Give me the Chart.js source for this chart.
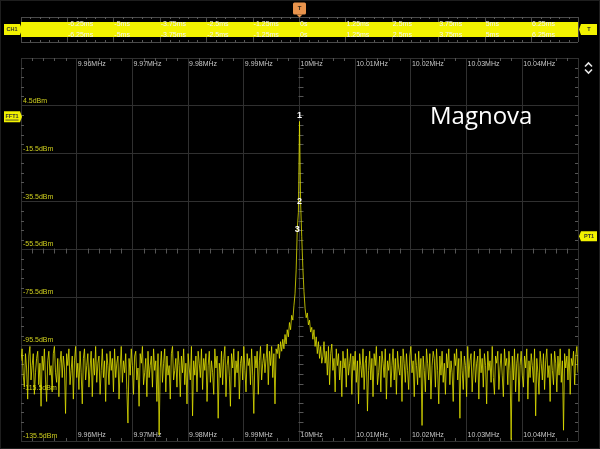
<!DOCTYPE html>
<html><head><meta charset="utf-8">
<script src="https://cdn.jsdelivr.net/npm/chart.js@4/dist/chart.umd.min.js"></script>
<style>
html,body{margin:0;padding:0;background:#000;overflow:hidden;}
#wrap{position:relative;width:600px;height:449px;background:#000;}
canvas{position:absolute;left:0;top:0;}
</style></head><body>
<div id="wrap">
<canvas id="main" width="600" height="449"></canvas>
<canvas id="strip" width="600" height="50"></canvas>
</div>
<script>
// ---------- data ----------
const freqTicksMHz = [9.95, 9.96, 9.97, 9.98, 9.99, 10.00, 10.01, 10.02, 10.03, 10.04, 10.05];
const freqTickLabels = ['', '9.96MHz', '9.97MHz', '9.98MHz', '9.99MHz', '10MHz', '10.01MHz', '10.02MHz', '10.03MHz', '10.04MHz', ''];
const levelTicksDbm = [24.5, 4.5, -15.5, -35.5, -55.5, -75.5, -95.5, -115.5, -135.5];
const levelTickLabels = ['', '4.5dBm', '-15.5dBm', '-35.5dBm', '-55.5dBm', '-75.5dBm', '-95.5dBm', '-115.5dBm', '-135.5dBm'];
const binStepMHz = 0.0002;
const carrierMHz = 10.0;
// bins below the carrier skirt (9.95 MHz upward)
const noiseLowDbm = [
 -102,-97,-108,-113,-99,-105,-118,-100,-96,-110,-104,-99,-116,-107,-101,-98,-112,-103,-121,-100,
 -106,-97,-110,-119,-102,-98,-108,-104,-115,-99,-96,-107,-111,-101,-117,-103,-98,-109,-100,-105,
 -124,-99,-104,-97,-112,-106,-100,-118,-102,-96,-109,-103,-114,-98,-107,-120,-101,-97,-110,-104,
 -99,-113,-105,-98,-117,-101,-108,-96,-111,-103,-100,-116,-106,-97,-109,-102,-119,-99,-104,-112,
 -98,-106,-101,-115,-97,-109,-103,-100,-118,-105,-96,-111,-102,-107,-99,-114,-128,-101,-108,-97,
 -104,-116,-100,-98,-110,-105,-121,-99,-103,-96,-112,-107,-101,-117,-98,-109,-104,-100,-113,-97,
 -106,-102,-119,-99,-133,-105,-98,-111,-103,-97,-115,-100,-108,-104,-118,-99,-96,-110,-106,-101,
 -113,-98,-104,-117,-100,-107,-97,-112,-103,-120,-99,-105,-110,-96,-125,-102,-108,-100,-115,-98,
 -103,-109,-97,-114,-101,-106,-99,-119,-104,-98,-111,-102,-107,-116,-97,-105,-100,-126,-103,-109,
 -98,-112,-101,-96,-117,-104,-100,-108,-121,-99,-105,-97,-113,-102,-107,-98,-118,-103,-100,-110,
 -96,-106,-115,-99,-104,-101,-112,-97,-108,-124,-100,-105,-98,-116,-102,-96,-110,-103,-99,-107,
 -101,-95,-112,-98,-104,-96,-109,-99,-120,-97
];
// carrier and skirt, 20 bins either side of 10 MHz
const carrierDbm = [
 -99,-95,-101,-94,-98,-93,-97,-91,-95,-89,-92,-86,-89,-83,-85,-79,-74,-64,-47,-40,
 -2,
 -36,-50,-63,-73,-80,-84,-82,-87,-85,-90,-88,-93,-89,-96,-92,-99,-94,-101,-96,-103
];
// bins above the carrier skirt (up to 10.05 MHz)
const noiseHighDbm = [
 -100,-94,-103,-98,-108,-96,-112,-99,-95,-106,-101,-115,-97,-104,-99,-110,-102,-117,-98,-105,
 -101,-113,-97,-108,-103,-99,-116,-100,-106,-98,-111,-102,-120,-99,-104,-109,-97,-114,-103,-100,
 -123,-106,-98,-110,-101,-117,-99,-104,-96,-112,-107,-100,-115,-98,-103,-109,-97,-118,-102,-106,
 -99,-113,-104,-97,-110,-101,-116,-98,-105,-108,-100,-119,-97,-103,-111,-99,-106,-114,-100,-96,
 -107,-102,-117,-99,-104,-112,-98,-109,-101,-129,-100,-106,-115,-97,-103,-110,-99,-118,-104,-98,
 -101,-113,-97,-106,-120,-100,-108,-98,-111,-103,-116,-99,-105,-97,-112,-102,-107,-119,-99,-104,
 -97,-110,-101,-126,-98,-106,-114,-100,-104,-117,-96,-109,-102,-99,-115,-105,-98,-111,-103,-100,
 -118,-97,-107,-101,-113,-99,-104,-120,-98,-106,-102,-111,-96,-109,-116,-100,-103,-98,-114,-105,
 -99,-108,-117,-97,-104,-101,-112,-98,-106,-135,-100,-110,-97,-115,-103,-99,-119,-104,-98,-108,
 -113,-100,-105,-97,-118,-102,-109,-99,-104,-111,-97,-125,-101,-107,-116,-98,-103,-110,-99,-114,
 -102,-97,-109,-104,-119,-99,-106,-112,-98,-103,-115,-100,-108,-97,-111,-102,-131,-99,-105,-100,
 -110,-97,-116,-101,-104,-98,-112,-100,-96,-107
];
const markerLabels = ['1', '2', '3'];
const markerFreqMHz = [10.0, 10.0, 9.9996];
const markerDbm = [-2, -35.5, -47];
const fftRefDbm = 0;       // FFT1 badge level
const pt1LevelDbm = -50;   // PT1 badge level
const timeTicksMs = [-7.5, -6.25, -5, -3.75, -2.5, -1.25, 0, 1.25, 2.5, 3.75, 5, 6.25, 7.5];
const timeTickLabels = ['', '-6.25ms', '-5ms', '-3.75ms', '-2.5ms', '-1.25ms', '0s', '1.25ms', '2.5ms', '3.75ms', '5ms', '6.25ms', ''];
const ch1BandLevels = [3, -3];
const triggerTimeMs = 0;

// ---------- build spectrum points (frequency of each bin) ----------
const half = (carrierDbm.length - 1) / 2;
const spectrumPoints = [];
noiseLowDbm.forEach((v, i) => spectrumPoints.push({ x: carrierMHz - (half + noiseLowDbm.length - i) * binStepMHz, y: v }));
carrierDbm.forEach((v, i) => spectrumPoints.push({ x: carrierMHz + (i - half) * binStepMHz, y: v }));
noiseHighDbm.forEach((v, i) => spectrumPoints.push({ x: carrierMHz + (half + 1 + i) * binStepMHz, y: v }));

// ---------- helpers ----------
const FONT = '"Liberation Sans", Arial, sans-serif';
function badge(ctx, x1, y1, x2, y2, pointDir, fill, text, tcol, fsize, underline) {
  ctx.save();
  ctx.fillStyle = fill;
  ctx.beginPath();
  const ym = (y1 + y2) / 2;
  if (pointDir === 'right') {
    ctx.moveTo(x1, y1); ctx.lineTo(x2, y1); ctx.lineTo(x2 + 2, ym); ctx.lineTo(x2, y2); ctx.lineTo(x1, y2);
  } else if (pointDir === 'left') {
    ctx.moveTo(x1, y1); ctx.lineTo(x2, y1); ctx.lineTo(x2, y2); ctx.lineTo(x1, y2); ctx.lineTo(x1 - 2, ym);
  } else {
    ctx.rect(x1, y1, x2 - x1, y2 - y1);
  }
  ctx.closePath(); ctx.fill();
  ctx.fillStyle = tcol;
  ctx.font = 'bold ' + fsize + 'px ' + FONT;
  ctx.textAlign = 'center'; ctx.textBaseline = 'middle';
  const cx = (x1 + x2) / 2;
  ctx.fillText(text, cx, ym);
  if (underline) {
    const w = ctx.measureText(text).width;
    ctx.fillRect(cx - w / 2, ym + 3, w, 0.8);
  }
  ctx.restore();
}

// ---------- main FFT chart ----------
const mainPlugin = {
  id: 'scopeMain',
  beforeDatasetsDraw(chart) {
    const ctx = chart.ctx, a = chart.chartArea, xs = chart.scales.x, ys = chart.scales.y;
    ctx.save();
    ctx.strokeStyle = '#555'; ctx.lineWidth = 1;
    const xc = Math.round(xs.getPixelForValue(10.0)) + 0.5;
    const yc = Math.round(ys.getPixelForValue(-55.5)) + 0.5;
    for (let i = 0; i < freqTicksMHz.length - 1; i++) {
      for (let k = 1; k < 5; k++) {
        const v = freqTicksMHz[i] + (freqTicksMHz[i + 1] - freqTicksMHz[i]) * k / 5;
        const px = Math.round(xs.getPixelForValue(v)) + 0.5;
        ctx.beginPath();
        ctx.moveTo(px, a.top); ctx.lineTo(px, a.top + 3);
        ctx.moveTo(px, a.bottom); ctx.lineTo(px, a.bottom - 3);
        ctx.moveTo(px, yc - 2); ctx.lineTo(px, yc + 3);
        ctx.stroke();
      }
    }
    for (let i = 0; i < levelTicksDbm.length - 1; i++) {
      for (let k = 1; k < 5; k++) {
        const v = levelTicksDbm[i] + (levelTicksDbm[i + 1] - levelTicksDbm[i]) * k / 5;
        const py = Math.round(ys.getPixelForValue(v)) + 0.5;
        ctx.beginPath();
        ctx.moveTo(a.left, py); ctx.lineTo(a.left + 3, py);
        ctx.moveTo(a.right, py); ctx.lineTo(a.right - 3, py);
        ctx.moveTo(xc - 2, py); ctx.lineTo(xc + 3, py);
        ctx.stroke();
      }
    }
    ctx.font = '7px ' + FONT;
    ctx.textBaseline = 'middle'; ctx.textAlign = 'left';
    ctx.fillStyle = '#c8c8c8';
    freqTicksMHz.forEach((v, i) => {
      if (!freqTickLabels[i]) return;
      const px = xs.getPixelForValue(v) + 1;
      ctx.fillText(freqTickLabels[i], px, a.top + 6.5);
      ctx.fillText(freqTickLabels[i], px, a.bottom - 5.5);
    });
    ctx.fillStyle = '#cfcf1e';
    levelTicksDbm.forEach((v, i) => {
      if (!levelTickLabels[i]) return;
      const py = ys.getPixelForValue(v);
      ctx.fillText(levelTickLabels[i], a.left + 2, py - 5);
    });
    ctx.restore();
  },
  afterDraw(chart) {
    const ctx = chart.ctx, xs = chart.scales.x, ys = chart.scales.y;
    ctx.save();
    ctx.fillStyle = '#ffffff';
    ctx.font = 'bold 9px ' + FONT;
    ctx.textAlign = 'center'; ctx.textBaseline = 'middle';
    markerLabels.forEach((t, i) => {
      const px = xs.getPixelForValue(markerFreqMHz[i]);
      let py = ys.getPixelForValue(markerDbm[i]);
      if (i === 0) py -= 6;
      ctx.fillText(t, px, py);
    });
    ctx.font = '24px "Open Sans", "Noto Sans", sans-serif';
    ctx.textAlign = 'left'; ctx.textBaseline = 'alphabetic';
    ctx.fillText('Magnova', 430, 124);
    const yf = ys.getPixelForValue(fftRefDbm);
    badge(ctx, 4, yf - 5.5, 20, yf + 5.5, 'right', '#f2f200', 'FFT1', '#333', 5.5, true);
    const yp = ys.getPixelForValue(pt1LevelDbm);
    badge(ctx, 581, yp - 5, 597, yp + 5, 'left', '#f2f200', 'PT1', '#333', 5.5, false);
    ctx.strokeStyle = '#e6e6e6'; ctx.lineWidth = 1.6;
    ctx.beginPath();
    ctx.moveTo(585, 66.5); ctx.lineTo(588.5, 63); ctx.lineTo(592, 66.5);
    ctx.moveTo(585, 69.5); ctx.lineTo(588.5, 73); ctx.lineTo(592, 69.5);
    ctx.stroke();
    ctx.strokeStyle = '#1e1e1e'; ctx.lineWidth = 1;
    ctx.strokeRect(0.5, 0.5, 599, 448);
    ctx.restore();
  }
};

new Chart(document.getElementById('main'), {
  type: 'line',
  data: {
    datasets: [{
      data: spectrumPoints,
      borderColor: 'rgba(228,228,0,0.78)',
      borderWidth: 1,
      pointRadius: 0,
      tension: 0,
      fill: false
    }]
  },
  options: {
    responsive: false,
    animation: false,
    devicePixelRatio: 1,
    layout: { padding: { left: 21, right: 22, top: 58, bottom: 8 } },
    plugins: { legend: { display: false }, tooltip: { enabled: false } },
    scales: {
      x: {
        type: 'linear', min: 9.95, max: 10.05,
        afterBuildTicks: s => { s.ticks = freqTicksMHz.map(v => ({ value: v })); },
        ticks: { display: false },
        grid: { color: '#303030', drawTicks: false, lineWidth: 1 },
        border: { display: false }
      },
      y: {
        type: 'linear', min: -135.5, max: 24.5,
        afterBuildTicks: s => { s.ticks = levelTicksDbm.map(v => ({ value: v })); },
        ticks: { display: false },
        grid: { color: '#303030', drawTicks: false, lineWidth: 1 },
        border: { display: false }
      }
    }
  },
  plugins: [mainPlugin]
});

// ---------- timebase overview strip ----------
const stripPlugin = {
  id: 'scopeStrip',
  afterDraw(chart) {
    const ctx = chart.ctx, a = chart.chartArea, xs = chart.scales.x;
    ctx.save();
    ctx.strokeStyle = '#5a5a5a'; ctx.lineWidth = 1;
    for (let i = 0; i < timeTicksMs.length - 1; i++) {
      for (let k = 1; k < 5; k++) {
        const v = timeTicksMs[i] + (timeTicksMs[i + 1] - timeTicksMs[i]) * k / 5;
        const px = Math.round(xs.getPixelForValue(v)) + 0.5;
        ctx.beginPath();
        ctx.moveTo(px, a.top); ctx.lineTo(px, a.top + 2);
        ctx.moveTo(px, a.bottom); ctx.lineTo(px, a.bottom - 2);
        ctx.stroke();
      }
    }
    ctx.font = '7px ' + FONT;
    ctx.fillStyle = '#f4f4f4';
    ctx.textAlign = 'left'; ctx.textBaseline = 'middle';
    timeTicksMs.forEach((v, i) => {
      if (!timeTickLabels[i]) return;
      const px = xs.getPixelForValue(v) + 0.5;
      ctx.fillText(timeTickLabels[i], px, 24.5);
      ctx.fillText(timeTickLabels[i], px, 35.5);
    });
    const tx = xs.getPixelForValue(triggerTimeMs);
    ctx.fillStyle = '#e8934c';
    ctx.beginPath();
    if (ctx.roundRect) ctx.roundRect(tx - 6.5, 2.5, 13, 12, 1.5); else ctx.rect(tx - 6.5, 2.5, 13, 12);
    ctx.fill();
    ctx.beginPath(); ctx.moveTo(tx - 3, 14.5); ctx.lineTo(tx + 3, 14.5); ctx.lineTo(tx, 17.5); ctx.closePath(); ctx.fill();
    ctx.fillStyle = '#3a2a1a';
    ctx.font = 'bold 6px ' + FONT; ctx.textAlign = 'center';
    ctx.fillText('T', tx, 8.8);
    badge(ctx, 4, 24, 20, 35, 'right', '#f2f200', 'CH1', '#333', 5.5, false);
    badge(ctx, 581, 24, 597, 35, 'left', '#f2f200', 'T', '#333', 5.5, false);
    ctx.strokeStyle = '#1e1e1e';
    ctx.beginPath(); ctx.moveTo(0, 0.5); ctx.lineTo(600, 0.5); ctx.stroke();
    ctx.restore();
  }
};

new Chart(document.getElementById('strip'), {
  type: 'line',
  data: {
    datasets: [
      { data: [{ x: -7.5, y: ch1BandLevels[0] }, { x: 7.5, y: ch1BandLevels[0] }],
        borderColor: '#f2f200', backgroundColor: '#f2f200', borderWidth: 0, pointRadius: 0, fill: '+1' },
      { data: [{ x: -7.5, y: ch1BandLevels[1] }, { x: 7.5, y: ch1BandLevels[1] }],
        borderColor: '#f2f200', borderWidth: 0, pointRadius: 0, fill: false }
    ]
  },
  options: {
    responsive: false,
    animation: false,
    devicePixelRatio: 1,
    layout: { padding: { left: 21, right: 22, top: 17, bottom: 8 } },
    plugins: { legend: { display: false }, tooltip: { enabled: false } },
    scales: {
      x: {
        type: 'linear', min: -7.5, max: 7.5,
        afterBuildTicks: s => { s.ticks = timeTicksMs.map(v => ({ value: v })); },
        ticks: { display: false },
        grid: { color: '#4a4a4a', drawTicks: false },
        border: { display: false }
      },
      y: {
        type: 'linear', min: -5, max: 5,
        afterBuildTicks: s => { s.ticks = [{ value: -5 }, { value: 5 }]; },
        ticks: { display: false },
        grid: { color: '#4a4a4a', drawTicks: false },
        border: { display: false }
      }
    }
  },
  plugins: [stripPlugin]
});
</script>
</body></html>
